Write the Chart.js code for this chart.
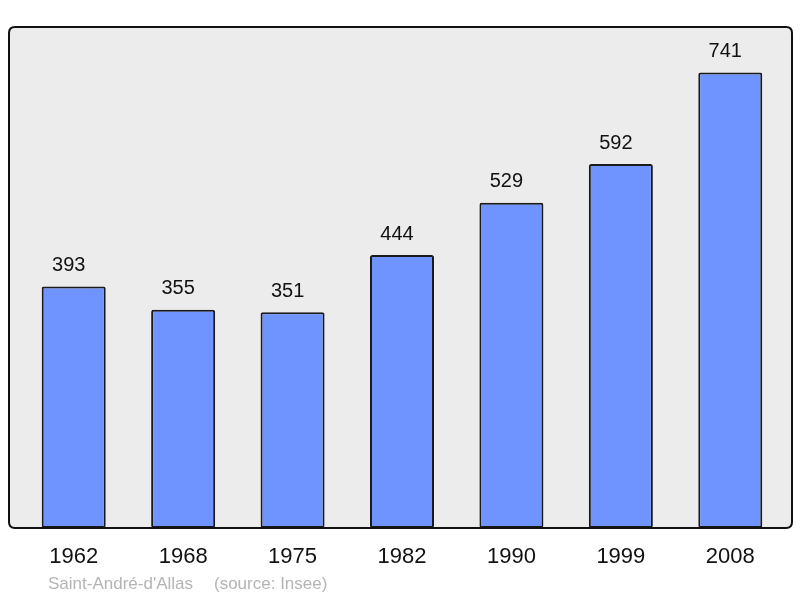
<!DOCTYPE html>
<html><head><meta charset="utf-8">
<script src="https://cdn.jsdelivr.net/npm/chart.js@4/dist/chart.umd.min.js"></script>
<style>html,body{margin:0;padding:0;background:#fff}#wrap{width:800px;height:598px}</style>
</head><body><div id="wrap"><canvas id="c" width="800" height="598"></canvas></div>
<script>
const years = ["1962","1968","1975","1982","1990","1999","2008"];
const population = [393,355,351,444,529,592,741];
const footerName = "Saint-André-d'Allas";
const footerSource = "(source: Insee)";

function boxPath(ctx){
  const x0=9,y0=27,x1=792,y1=528,r=6;
  ctx.beginPath();
  ctx.moveTo(x0+r,y0);ctx.lineTo(x1-r,y0);ctx.quadraticCurveTo(x1,y0,x1,y0+r);
  ctx.lineTo(x1,y1-r);ctx.quadraticCurveTo(x1,y1,x1-r,y1);
  ctx.lineTo(x0+r,y1);ctx.quadraticCurveTo(x0,y1,x0,y1-r);
  ctx.lineTo(x0,y0+r);ctx.quadraticCurveTo(x0,y0,x0+r,y0);ctx.closePath();
}
const bgPlugin = {
  id:'bg',
  beforeDraw(chart){
    const ctx = chart.ctx;
    ctx.save();boxPath(ctx);ctx.fillStyle='#ececec';ctx.fill();ctx.restore();
  },
  afterDatasetsDraw(chart){
    const ctx = chart.ctx;
    ctx.save();
    boxPath(ctx);ctx.lineWidth=2;ctx.strokeStyle='#111';ctx.stroke();
    const meta = chart.getDatasetMeta(0);
    ctx.font='20px "Liberation Sans", Arial, sans-serif';
    ctx.fillStyle='#111';ctx.textAlign='center';ctx.textBaseline='middle';
    meta.data.forEach((bar,i)=>{
      ctx.fillText(String(population[i]), bar.x-5, bar.y-21);
    });
    ctx.font='17px "Liberation Sans", Arial, sans-serif';
    ctx.fillStyle='#b4b4b4';ctx.textAlign='left';
    ctx.fillText(footerName, 48, 584);
    ctx.fillText(footerSource, 214, 584);
    ctx.restore();
  }
};

new Chart(document.getElementById('c'),{
  type:'bar',
  data:{labels:years,datasets:[{data:population,backgroundColor:'#7094ff',borderColor:'#1a1a1a',borderWidth:2,borderRadius:2,borderSkipped:false,categoryPercentage:1,barPercentage:0.585}]},
  options:{
    responsive:false,animation:false,devicePixelRatio:1,
    layout:{padding:{left:19,right:15,top:27,bottom:0}},
    plugins:{legend:{display:false},tooltip:{enabled:false}},
    scales:{
      x:{grid:{display:false},border:{display:false},
         ticks:{color:'#111',font:{family:'"Liberation Sans", Arial, sans-serif',size:22},padding:8},
         afterFit(s){s.height=70;}},
      y:{display:false,min:0,max:815}
    }
  },
  plugins:[bgPlugin]
});
</script></body></html>
